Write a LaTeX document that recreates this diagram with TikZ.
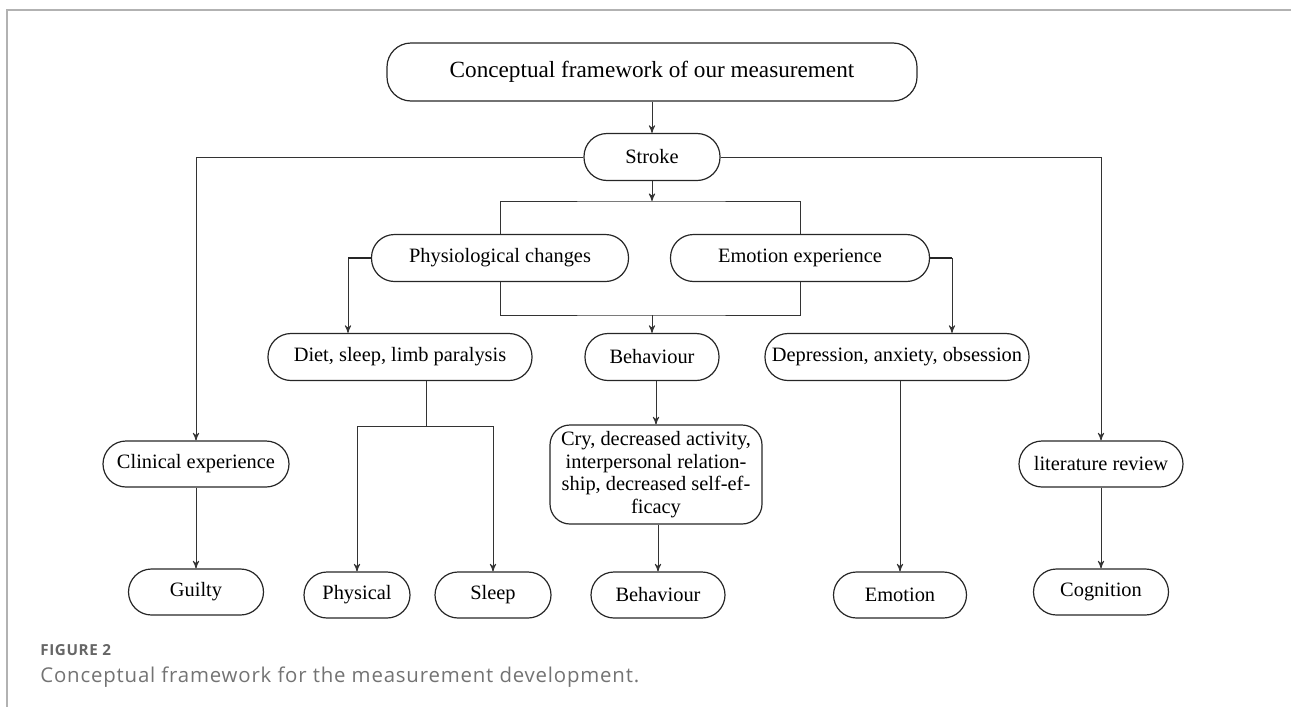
\documentclass[tikz,border=0pt]{standalone}
\usepackage{fontspec}
\setmainfont{Liberation Serif}
\newfontfamily\capfont[LetterSpace=4]{Open Sans}
\usepackage{tikz}
\usetikzlibrary{arrows}

\tikzset{
  box/.style={draw=black!85, line width=0.6pt, rounded corners=11.5pt,
    minimum height=23.5pt, inner sep=0pt, align=center,
    font=\fontsize{10.2}{11.3}\selectfont},
  link/.style={draw=black!80, line width=0.45pt},
  stub/.style={draw=black!85, line width=1pt},
  frame/.style={draw=black!30, line width=1pt}
}

\begin{document}
\begin{tikzpicture}[x=0.5pt,y=-0.5pt,>=stealth',shorten >=0pt]
  \useasboundingbox (0,0) rectangle (1291,707);
  \draw[frame] (7,707) -- (7,10) -- (1291,10);

  % top of the tree
  \node[box,rounded corners=12pt,minimum width=265pt,minimum height=29pt,
        font=\fontsize{11.6}{13}\selectfont] (title) at (652,72) {Conceptual framework of our measurement};
  \node[box,minimum width=68pt] (stroke) at (652,157) {Stroke};
  \node[box,minimum width=128.5pt] (phys) at (500,258) {Physiological changes};
  \node[box,minimum width=129.5pt] (emo) at (800,258) {Emotion experience};

  % middle row
  \node[box,minimum width=132pt] (diet) at (400,357) {Diet, sleep, limb paralysis};
  \node[box,minimum width=67pt] (beh) at (652,357) {Behaviour};
  \node[box,minimum width=132pt] (dep) at (897,357) {Depression, anxiety, obsession};
  \node[box,minimum width=93pt,minimum height=23pt] (clin) at (196,464) {Clinical experience};
  \node[box,minimum width=82pt,minimum height=23pt] (lit) at (1101,464) {literature review};
  \node[box,rounded corners=10pt,minimum width=106pt,minimum height=49.5pt] (cry) at (656,474.5)
    {Cry, decreased activity,\\interpersonal relation-\\ship, decreased self-ef-\\ficacy};

  % bottom row
  \node[box,minimum width=67.5pt,minimum height=23pt] (guilty) at (196,592) {Guilty};
  \node[box,minimum width=53pt,minimum height=23pt] (physical) at (357,595) {Physical};
  \node[box,minimum width=58pt,minimum height=23pt] (sleep) at (493,595) {Sleep};
  \node[box,minimum width=67pt,minimum height=23pt] (beh2) at (658,595) {Behaviour};
  \node[box,minimum width=66.5pt,minimum height=23pt] (emotion) at (900,595) {Emotion};
  \node[box,minimum width=67.5pt,minimum height=23pt] (cog) at (1101,592) {Cognition};

  \coordinate (upbar) at (652,201);
  \coordinate (lowbar) at (652,315);
  \coordinate (dsplit) at (426,426);

  \draw[link,->] (title) -- (stroke);
  \draw[link,->] (stroke.south) -- (upbar);
  \draw[link,->] (lowbar) -- (beh.north);
  \draw[link,->] (stroke.west) -| (clin.north);
  \draw[link,->] (stroke.east) -| (lit.north);
  \draw[link] (phys.north) |- (upbar) -| (emo.north);
  \draw[link] (phys.south) |- (lowbar) -| (emo.south);
  \draw[link,->] (phys.west) -| ([xshift=-26pt]diet.north);
  \draw[link,->] (emo.east) -| ([xshift=27.5pt]dep.north);
  \draw[stub] (phys.west) -- ++(-23,0);
  \draw[stub] (emo.east) -- ++(22,0);
  \draw[link] (diet.south -| dsplit) -- (dsplit);
  \draw[link,->] (dsplit) -| (physical.north);
  \draw[link,->] (dsplit) -| (sleep.north);
  \draw[link,->] (cry.north |- beh.south) -- (cry.north);
  \draw[link,->] (beh2.north |- cry.south) -- (beh2.north);
  \draw[link,->] (emotion.north |- dep.south) -- (emotion.north);
  \draw[link,->] (clin) -- (guilty);
  \draw[link,->] (lit) -- (cog);

  % caption
  \node[anchor=base west,inner sep=0pt,text=black!60,font=\capfont\bfseries\fontsize{7.6}{9}\selectfont] (fig) at (40,655) {FIGURE 2};
  \node[anchor=base west,inner sep=0pt,text=black!55,font=\capfont\fontsize{10.2}{12}\selectfont] (cap) at (40,682) {Conceptual framework for the measurement development.};
\end{tikzpicture}
\end{document}
